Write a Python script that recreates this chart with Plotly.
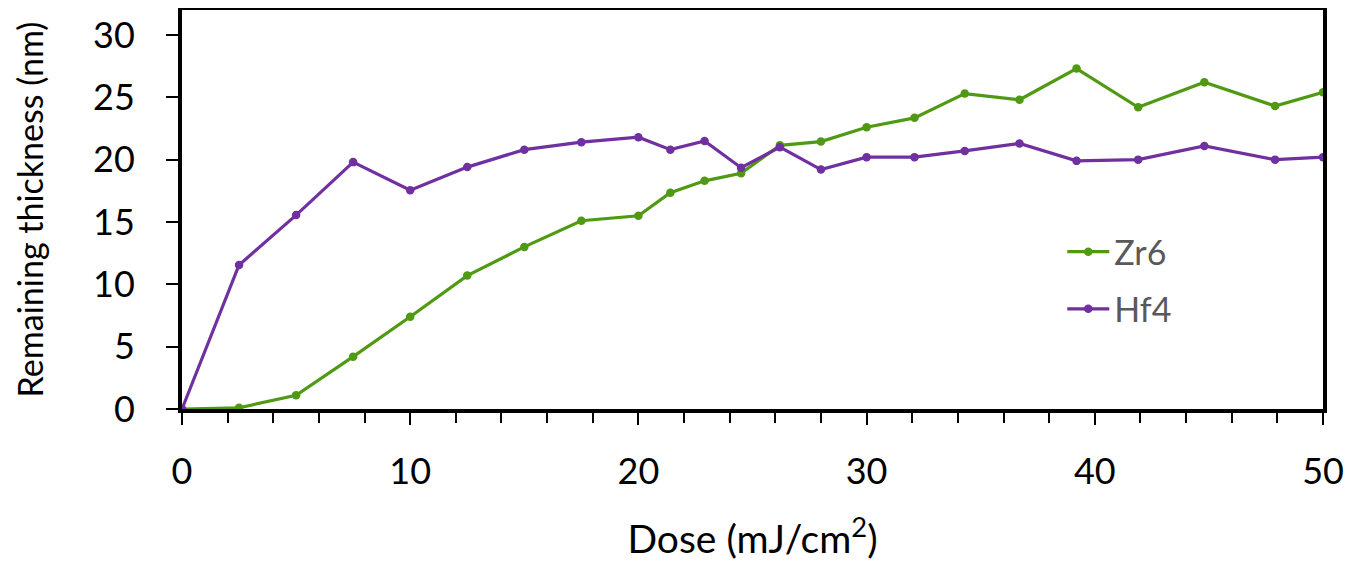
import plotly.graph_objects as go

dose = [0, 2.5, 5, 7.5, 10, 12.5, 15, 17.5, 20, 21.4, 22.9, 24.5, 26.2, 28.0,
        30.0, 32.1, 34.3, 36.7, 39.2, 41.9, 44.8, 47.9, 50]
zr6 = [0, 0.1, 1.1, 4.2, 7.4, 10.7, 13.0, 15.1, 15.5, 17.35, 18.3, 18.9, 21.15, 21.45,
       22.6, 23.35, 25.3, 24.8, 27.3, 24.2, 26.2, 24.3, 25.4]
hf4 = [0, 11.55, 15.55, 19.8, 17.55, 19.4, 20.8, 21.4, 21.8, 20.8, 21.5, 19.35, 21.0, 19.2,
       20.2, 20.2, 20.7, 21.3, 19.9, 20.0, 21.1, 20.0, 20.2]

green = "#4F9A12"
purple = "#7030A0"
FONT = "Lato"

fig = go.Figure()
fig.add_trace(go.Scatter(x=dose, y=zr6, name="Zr6", mode="lines+markers",
                         line=dict(color=green, width=3.2), marker=dict(size=8.5, color=green),
                         legendgroup="a"))
fig.add_trace(go.Scatter(x=dose, y=hf4, name="Hf4", mode="lines+markers",
                         line=dict(color=purple, width=3.2), marker=dict(size=8.5, color=purple),
                         legendgroup="b"))

fig.update_layout(
    width=1359, height=553,
    margin=dict(l=174, r=44, t=2, b=152),
    plot_bgcolor="white", paper_bgcolor="white",
    font=dict(family=FONT, color="black"),
    showlegend=True,
    legend=dict(x=0.7715, y=0.466, xanchor="left", yanchor="top",
                font=dict(size=34, color="#595959", family=FONT),
                bgcolor="rgba(0,0,0,0)", tracegroupgap=10, itemwidth=42),
)
fig.update_xaxes(
    range=[0, 50], dtick=10, tick0=0, automargin=False,
    showline=True, linecolor="black", linewidth=4, mirror=True,
    ticks="outside", ticklen=12, tickwidth=2, tickcolor="black",
    minor=dict(dtick=2, ticks="outside", ticklen=10, tickwidth=2, tickcolor="black"),
    showgrid=False, zeroline=False,
    tickfont=dict(size=36, family=FONT), ticklabelstandoff=16,
    title=dict(text="Dose (mJ/cm<sup>2</sup>)", font=dict(size=39, family=FONT), standoff=36),
)
fig.update_yaxes(
    range=[0, 32], dtick=5, tick0=0, automargin=False,
    showline=True, linecolor="black", linewidth=4, mirror=True,
    ticks="outside", ticklen=12, tickwidth=2, tickcolor="black",
    showgrid=False, zeroline=False,
    tickfont=dict(size=36, family=FONT), ticklabelstandoff=24,
    title=dict(text="Remaining thickness (nm)", font=dict(size=34, family=FONT), standoff=40),
)

fig.write_html("out.html")
